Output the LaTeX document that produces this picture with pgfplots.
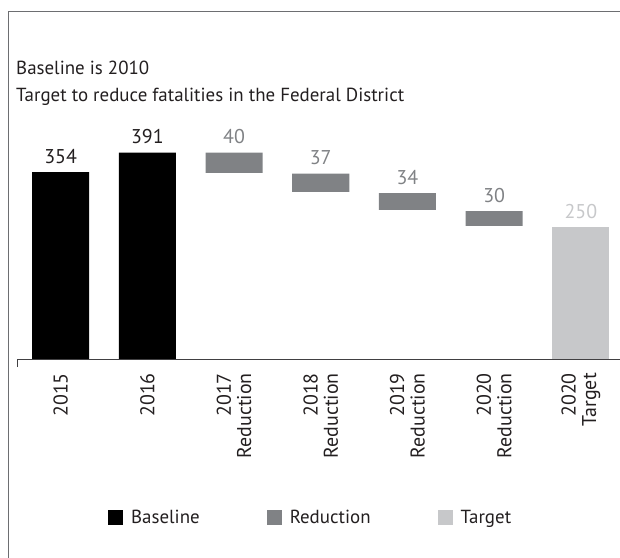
\documentclass[border=0pt]{standalone}
\usepackage{pgfplots}
\pgfplotsset{compat=1.18}
\usepackage{fontspec}
\setmainfont{PT Sans}
\definecolor{redc}{HTML}{808285}
\definecolor{tarc}{HTML}{C7C8CA}
\definecolor{framec}{HTML}{6D6E71}
\definecolor{axc}{HTML}{414042}
\definecolor{txt}{HTML}{231F20}
\begin{document}
\begin{tikzpicture}
\begin{axis}[
  at={(17.3bp,199bp)}, anchor=south west,
  scale only axis, width=606.9bp, height=211.2bp,
  xmin=-0.5, xmax=6.5, ymin=0, ymax=400,
  ybar, bar width=57bp, axis on top,
  axis x line=bottom, axis y line=none,
  x axis line style={-, draw=axc, line width=1bp},
  xtick={0,...,6},
  xticklabels={2015,2016,{2017\\Reduction},{2018\\Reduction},{2019\\Reduction},{2020\\Reduction},{2020\\Target}},
  xticklabel style={rotate=90, anchor=east, align=right, inner sep=0pt, font=\fontsize{20}{20.5}\selectfont, text=txt},
  xticklabel shift=14bp,
  major tick length=0pt,
  extra x ticks={-0.5}, extra x tick labels={},
  extra x tick style={major tick length=8bp, tick align=outside, tick style={draw=axc, line width=1bp}},
  ytick=\empty,
  /pgf/number format/assume math mode=true,
  legend columns=3,
  legend style={draw=none, fill=none, inner sep=0pt, at={(0.1494,-0.7528)}, anchor=west,
    font=\fontsize{19}{20}\selectfont, text=txt,
    nodes={inner sep=0pt},
    /tikz/every odd column/.append style={column sep=8bp},
    /tikz/every even column/.append style={column sep=67bp}},
  legend image code/.code={\fill[#1] (0bp,-7.5bp) rectangle (15bp,7.5bp);},
  nodes near coords style={anchor=base, inner sep=0pt, yshift=9bp, font=\fontsize{20}{20}\selectfont},
]
\addplot[fill=black, draw=none, bar shift=0pt, nodes near coords, point meta=explicit, nodes near coords style={text=txt}]
  coordinates {(0,354)[354] (1,391)[391]};
\addplot[fill=redc, draw=none, bar shift=0pt, nodes near coords, point meta=explicit, nodes near coords style={text=redc}]
  coordinates {(2,391)[40] (3,351)[37] (4,314)[34] (5,280)[30]};
\addplot[fill=white, draw=white, line width=1.5bp, bar shift=0pt, bar width=58bp, forget plot]
  coordinates {(2,351) (3,314) (4,280) (5,250)};
\addplot[fill=tarc, draw=none, bar shift=0pt, nodes near coords, point meta=explicit, nodes near coords style={text=tarc}]
  coordinates {(6,250)[250]};
\legend{Baseline, Reduction, Target}
\end{axis}
\node[anchor=base west, inner sep=0pt, font=\fontsize{19}{20}\selectfont, text=txt] at (16bp,483bp) {Baseline is 2010};
\node[anchor=base west, inner sep=0pt, font=\fontsize{19}{20}\selectfont, text=txt] at (16bp,456bp) {Target to reduce fatalities in the Federal District};
\draw[framec, line width=1.5bp] (8.5bp,-5bp) -- (8.5bp,546.5bp) -- (630bp,546.5bp);
\pgfresetboundingbox
\useasboundingbox (0,0) rectangle (620bp,558bp);
\end{tikzpicture}
\end{document}
